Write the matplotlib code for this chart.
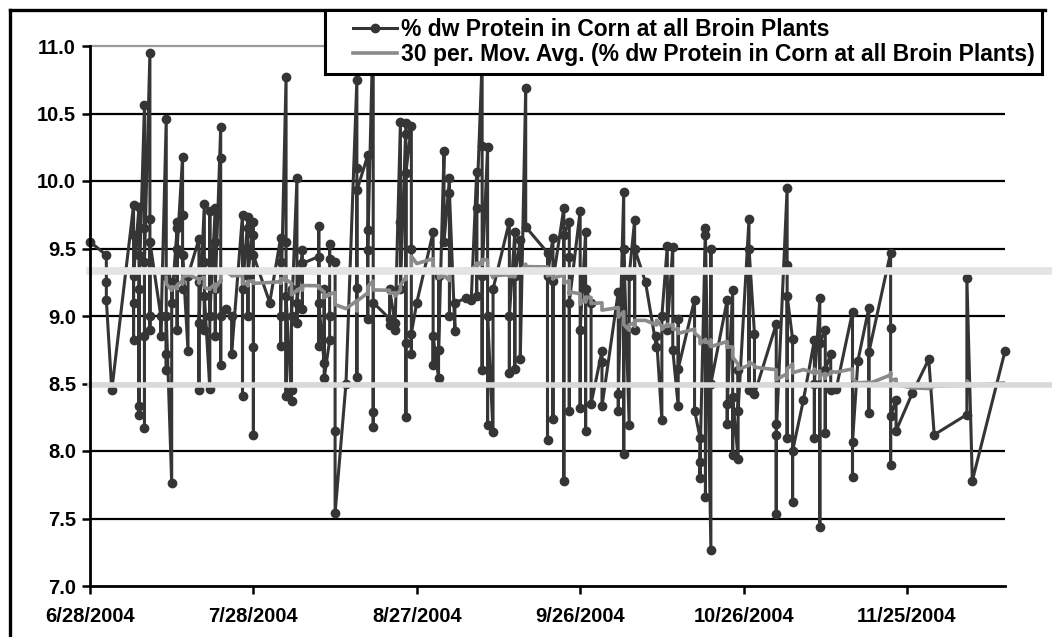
import datetime as dt
import numpy as np
import pandas as pd
import matplotlib
matplotlib.use("Agg")
import matplotlib.pyplot as plt
from matplotlib.lines import Line2D
from matplotlib.legend_handler import HandlerLine2D

# --- dados ---
data_inicial = dt.date(2004, 6, 28)

# dia (a partir de 6/28/2004) e leituras de % proteína naquele dia
dia_amostra = [0, 3, 4, 8, 9, 10, 11, 13, 14, 15, 16, 17, 18, 20, 21, 22, 23, 24, 25, 26,
               28, 29, 30, 33, 35, 36, 37, 38, 39, 42, 43, 44, 45, 47, 49, 51, 52, 55, 56,
               57, 58, 59, 60, 63, 64, 65, 66, 67, 69, 70, 71, 72, 73, 74, 77, 78, 79, 80,
               84, 85, 87, 88, 90, 91, 92, 94, 97, 98, 99, 100, 102, 104, 105, 106, 107,
               108, 111, 112, 113, 114, 117, 118, 119, 121, 122, 126, 128, 129, 131, 133,
               134, 135, 136, 137, 140, 141, 143, 147, 148, 151, 154, 155, 161, 162, 168]

proteina = [
    [9.55], [9.45, 9.25, 9.12], [8.45],
    [9.82, 9.1, 9.6, 8.82, 9.3], [9.81, 8.27, 9.45, 8.33, 9.2], [10.56, 8.85, 9.65, 8.17, 9.4],
    [10.95, 9.0, 9.72, 8.9, 9.55], [9.0, 8.85], [10.46, 8.72, 9.3, 8.6, 9.0],
    [7.76, 9.25, 9.1], [9.65, 8.9, 9.7, 9.5], [10.18, 9.2, 9.75, 9.45], [8.74, 9.3],
    [9.57, 8.45, 9.25, 8.95], [9.83, 8.9, 9.4, 9.15], [8.46, 9.78, 9.0],
    [9.8, 8.85, 9.55, 9.2], [10.4, 8.64, 10.17, 9.0], [9.05], [9.0, 8.72],
    [9.75, 8.41, 9.5, 9.2], [9.73, 9.0, 9.65, 9.3], [9.7, 8.12, 9.6, 8.77, 9.45], [9.1],
    [9.58, 8.78, 9.4, 9.0], [10.77, 8.41, 9.55, 9.15], [8.37, 9.2, 8.45, 9.0],
    [10.02, 8.95, 9.1], [9.49, 9.05, 9.39],
    [9.44, 8.78, 9.67, 9.1], [8.65, 9.2, 8.54], [8.82, 9.53, 9.0, 9.42], [9.4, 8.15, 7.54],
    [8.5], [10.75, 8.55, 10.1, 9.21, 9.93], [10.19, 8.98, 9.64, 9.49], [11.2, 8.29, 8.18, 9.1],
    [8.98, 8.93, 9.2], [8.95, 8.9],
    [10.44, 9.7, 9.2], [10.43, 8.25, 10.35, 8.8, 10.06], [10.41, 8.72, 9.5, 8.87], [9.1],
    [9.62, 8.64, 8.85], [8.54, 9.3, 8.75], [10.22, 9.55], [10.02, 9.0, 9.91], [8.89, 9.1],
    [9.13], [9.12], [10.07, 9.15, 9.8], [10.9, 8.6, 10.26, 9.3], [10.25, 8.19, 9.0],
    [8.14, 9.2], [9.7, 8.58, 9.0], [9.62, 8.61, 9.3], [9.56, 8.68], [10.69, 9.66],
    [9.47, 8.08, 9.3], [9.58, 8.24, 9.26], [9.8, 7.78, 9.6], [9.7, 8.3, 9.44, 9.1],
    [9.78, 8.32, 8.9], [9.62, 8.15, 9.2], [9.1, 8.35], [8.74, 8.66, 8.33],
    [9.18, 8.3, 8.42], [9.92, 7.98, 9.5], [8.19, 9.3], [9.71, 8.9, 9.5], [9.25],
    [8.77, 8.85], [8.23, 9.0], [9.52, 8.9], [9.51, 8.75],
    [8.33, 8.98, 8.61], [9.12, 8.3], [8.1, 7.8, 7.92], [9.65, 7.66, 9.6], [7.27, 9.5, 8.5],
    [9.12, 8.2, 8.35], [9.19, 7.97, 8.4], [7.94, 8.6, 8.3], [9.72, 8.45, 9.5], [8.87, 8.42],
    [8.94, 7.53, 8.2, 8.12], [9.95, 8.1, 9.38, 9.15], [8.83, 7.62, 8.0], [8.38],
    [8.82, 8.1, 8.5], [9.13, 7.44, 8.8], [8.9, 8.13, 8.6], [8.72, 8.45], [8.46],
    [9.03, 7.81, 8.07], [8.67], [9.06, 8.28, 8.73], [9.47, 7.9, 8.91, 8.26], [8.38, 8.15],
    [8.43], [8.68], [8.12], [8.27, 9.28], [7.78], [8.74],
]

rotulos_x = ["6/28/2004", "7/28/2004", "8/27/2004", "9/26/2004", "10/26/2004", "11/25/2004"]
valores_y = [7.0, 7.5, 8.0, 8.5, 9.0, 9.5, 10.0, 10.5, 11.0]

nome_serie = "% dw Protein in Corn at all Broin Plants"
nome_media = "30 per. Mov. Avg. (% dw Protein in Corn at all Broin Plants)"

# --- monta a série ---
datas, valores = [], []
for d, lista in zip(dia_amostra, proteina):
    for v in lista:
        datas.append(pd.Timestamp(data_inicial) + pd.Timedelta(days=d))
        valores.append(v)
serie = pd.Series(valores, index=pd.DatetimeIndex(datas))
media = serie.rolling(30).mean()

ticks_x = [pd.Timestamp(data_inicial) + pd.Timedelta(days=30 * k) for k in range(len(rotulos_x))]

plt.rcParams['font.family'] = ['Liberation Sans', 'DejaVu Sans']
plt.rcParams['font.weight'] = 'bold'

W, H = 1052, 637
fig = plt.figure(figsize=(W / 100, H / 100), dpi=100)
ax = fig.add_axes([90 / W, 1 - 586 / H, (1005 - 90) / W, (586 - 46) / H])

escuro = '#353535'
cinza = '#8a8a8a'

# linhas de grade
for y in valores_y[1:-1]:
    ax.axhline(y, color='black', lw=1.6, zorder=1)
ax.axhline(11.0, color='#9a9a9a', lw=1.6, zorder=1, clip_on=False)

ax.plot(serie.index, serie.values, '-o', color=escuro, lw=2.2, ms=6, zorder=3,
        clip_on=False, label=nome_serie)
ax.plot(media.index, media.values, '-', color=cinza, lw=2.6, zorder=4, label=nome_media)

# faixas claras (artefato da digitalização)
ax.axhline(9.335, xmin=0, xmax=(W - 90) / (1005 - 90), color='#e4e4e4', lw=5.5,
           zorder=5, clip_on=False)
ax.axhline(8.49, xmin=0, xmax=(W - 90) / (1005 - 90), color='#d9d9d9', lw=4,
           zorder=5, clip_on=False)

ax.set_ylim(7.0, 11.0)
ax.set_xlim(pd.Timestamp(data_inicial), pd.Timestamp(data_inicial) + pd.Timedelta(days=168))
ax.set_yticks(valores_y)
ax.set_yticklabels([f"{v:.1f}" for v in valores_y])
ax.set_xticks(ticks_x)
ax.set_xticklabels(rotulos_x)
ax.tick_params(axis='both', labelsize=14.5, width=1.8, length=6, direction='out',
               colors='black')
ax.tick_params(axis='y', pad=4)
ax.tick_params(axis='x', pad=9)

for lado in ['top', 'right']:
    ax.spines[lado].set_visible(False)
for lado in ['left', 'bottom']:
    ax.spines[lado].set_linewidth(2)
    ax.spines[lado].set_zorder(6)

leg = fig.legend(loc='upper left', bbox_to_anchor=(325 / W, 1 - 10 / H), fontsize=16.5,
                 frameon=True, framealpha=1, fancybox=False, edgecolor='black',
                 handlelength=2.8, handletextpad=0.15, borderpad=0.35, labelspacing=0.1,
                 borderaxespad=0, handler_map={Line2D: HandlerLine2D(xpad=0.85)})
leg.get_frame().set_linewidth(2.2)
leg.set_zorder(10)

# moldura externa
fig.add_artist(Line2D([10 / W, 1045 / W], [1 - 10 / H, 1 - 10 / H], color='black', lw=2.4))
fig.add_artist(Line2D([10 / W, 10 / W], [0, 1 - 10 / H], color='black', lw=2.4))

fig.savefig("out.png", dpi=100)
